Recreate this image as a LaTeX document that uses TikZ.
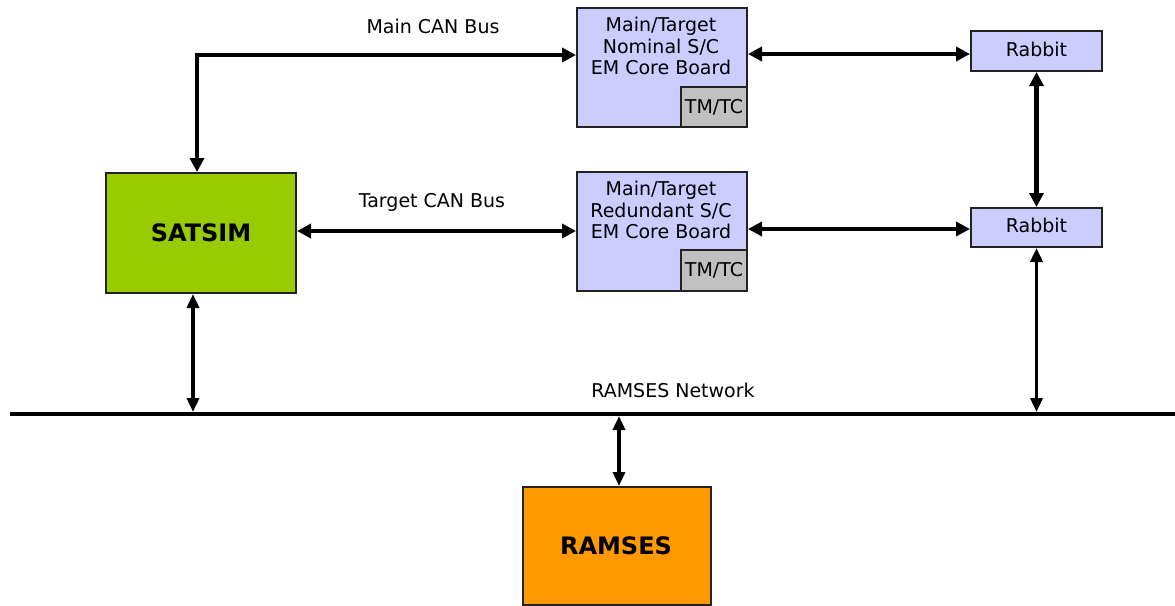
\documentclass[tikz,border=0pt]{standalone}
\usepackage{fontspec}
\setmainfont{DejaVu Sans}
\usetikzlibrary{arrows.meta}
\definecolor{simgreen}{HTML}{99CC00}
\definecolor{boardblue}{HTML}{CCCCFF}
\definecolor{tmgray}{HTML}{C0C0C0}
\definecolor{ramorange}{HTML}{FF9900}
\definecolor{edge}{HTML}{222222}
\tikzset{
  box/.style={draw=edge, line width=2pt, inner sep=0pt, anchor=north west},
  lbl/.style={font=\fontsize{19}{21}\selectfont, inner sep=0pt},
  boardtext/.style={font=\fontsize{19}{21.5}\selectfont, align=center, inner sep=0pt, anchor=north},
  bigtext/.style={font=\fontsize{24}{28}\selectfont\bfseries, inner sep=0pt},
  bus/.style={line width=4.5pt, {Triangle[length=14pt,width=14pt]}-{Triangle[length=14pt,width=14pt]}},
  tap/.style={line width=3.5pt, {Triangle[length=14pt,width=12pt]}-{Triangle[length=14pt,width=12pt]}},
}
\begin{document}
\begin{tikzpicture}[x=1pt, y=-1pt]
\useasboundingbox[fill=white] (0,0) rectangle (1175,605);

% simulator
\node[box, fill=simgreen, minimum width=190pt, minimum height=120pt] (sat) at (105,172) {};
\node[bigtext] (satlbl) at (sat.center) {SATSIM};

% core boards
\node[box, fill=boardblue, minimum width=170pt, minimum height=119pt] (nom) at (576,7) {};
\node[box, fill=tmgray, minimum width=66pt, minimum height=40pt, anchor=south east] (nomtm) at (nom.south east) {};
\node[lbl] (nomtmlbl) at (nomtm.center) {TM/TC};
\node[boardtext] (nomlbl) at (661,17) {Main/Target\\Nominal S/C\\EM Core Board};

\node[box, fill=boardblue, minimum width=170pt, minimum height=119pt] (red) at (576,171) {};
\node[box, fill=tmgray, minimum width=66pt, minimum height=41pt, anchor=south east] (redtm) at (red.south east) {};
\node[lbl] (redtmlbl) at (redtm.center) {TM/TC};
\node[boardtext] (redlbl) at (661,181) {Main/Target\\Redundant S/C\\EM Core Board};

% rabbits
\node[box, fill=boardblue, minimum width=131pt, minimum height=40pt] (rab1) at (970,30) {};
\node[lbl] (rab1lbl) at ([yshift=2pt]rab1.center) {Rabbit};
\node[box, fill=boardblue, minimum width=131pt, minimum height=39pt] (rab2) at (970,207) {};
\node[lbl] (rab2lbl) at ([yshift=2pt]rab2.center) {Rabbit};

% RAMSES
\node[box, fill=ramorange, minimum width=188pt, minimum height=118pt] (ram) at (522,486) {};
\node[bigtext] (ramlbl) at (616,546) {RAMSES};

% network backbone
\coordinate (netL) at (10,414);
\coordinate (netR) at (1175,414);
\draw[line width=4pt] (netL) -- (netR);
\node[lbl] (netlbl) at (673,390) {RAMSES Network};

% CAN buses
\coordinate (mainA) at ([yshift=12.5pt]nom.west);
\coordinate (mainB) at ([xshift=-4pt]sat.north);
\draw[bus] (mainB) |- (mainA);
\node[lbl] (mainlbl) at (433,26) {Main CAN Bus};

\coordinate (tgtA) at ([yshift=2pt]sat.east);
\draw[bus] (tgtA) -- (tgtA -| red.west);
\node[lbl] (tgtlbl) at (432,202) {Target CAN Bus};

% board to rabbit links
\coordinate (n2r) at ([yshift=13.5pt]nom.east);
\draw[bus] (n2r) -- (n2r -| rab1.west);
\coordinate (r2r) at ([yshift=2.5pt]red.east);
\draw[bus] (r2r) -- (r2r -| rab2.west);
\draw[bus] (rab1.south) -- (rab2.north);

% taps onto the network
\coordinate (satTap) at ([xshift=-8pt]sat.south);
\draw[tap] (satTap) -- ([yshift=2pt]satTap |- netL);
\draw[tap] (rab2.south) -- ([yshift=2pt]rab2.south |- netL);
\coordinate (ramTap) at ([xshift=2pt]ram.north);
\draw[tap] ([yshift=-2pt]ramTap |- netL) -- (ramTap);
\end{tikzpicture}
\end{document}
